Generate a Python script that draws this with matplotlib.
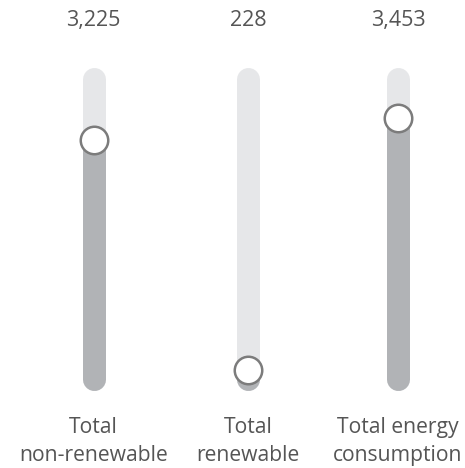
import matplotlib.pyplot as plt

labels = ["Total\nnon-renewable", "Total\nrenewable", "Total energy\nconsumption"]
values = [3225, 228, 3453]
value_text = ["3,225", "228", "3,453"]
slider_max = [4057, 8440, 3978]   # each slider has its own range (min 0)

# layout: slider centres in pixel units across the 465 px wide figure
xpos = [93.5, 248, 398]
track_col = "#e6e7e9"
fill_col = "#b1b3b6"
knob_edge = "#7c7c7c"
text_col = "#555555"

plt.rcParams['font.family'] = ['Open Sans', 'DejaVu Sans']

fig = plt.figure(figsize=(4.65, 4.68), dpi=100)
ax = fig.add_axes([0, 0, 1, 1])
ax.set_xlim(0, 465)
# slider fraction 0..1 maps to 300 px of track
ax.set_ylim(-0.298, 1.262)
ax.axis("off")

lw = 23 * 72 / 100  # track width in points
for i, v in enumerate(values):
    x = xpos[i]
    frac = v / slider_max[i]
    ax.plot([x, x], [0, 1], color=track_col, lw=lw, solid_capstyle="round", zorder=1)
    ax.plot([x, x], [0, frac], color=fill_col, lw=lw, solid_capstyle="round", zorder=2)
    ax.scatter([x], [frac], s=(27.5 * 72 / 100) ** 2, facecolor="white", edgecolor=knob_edge,
               linewidth=1.8, zorder=3)
    ax.text(x, 1.195, value_text[i], ha="center", va="center", fontsize=15.5, color=text_col)
    ax.text(x, -0.21, labels[i], ha="center", va="center", fontsize=15.2, color=text_col,
            linespacing=1.4)

fig.savefig("out.png", dpi=100)
